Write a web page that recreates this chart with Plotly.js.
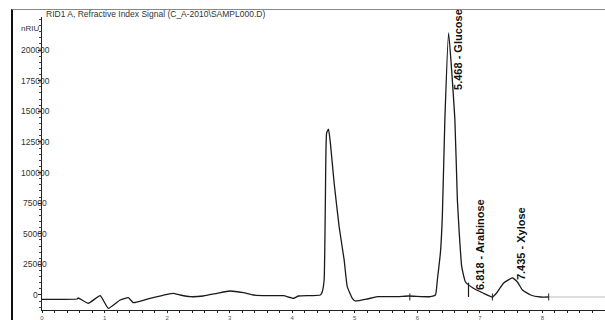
<!DOCTYPE html>
<html><head><meta charset="utf-8">
<script src="https://cdn.plot.ly/plotly-3.0.1.min.js"></script>
<style>html,body{margin:0;padding:0;background:#fff;}#frame{position:absolute;left:11px;top:9px;width:600px;height:320px;border-left:2px solid #111;border-top:1px solid #888;box-sizing:border-box;pointer-events:none;z-index:5}</style>
</head><body>
<div id="chart" style="width:605px;height:320px;"></div>
<div id="frame"></div>
<script>
// Retention time (min) and signal (nRIU)
const timeMin = [0,0.56,0.58,0.74,0.93,1.06,1.25,1.38,1.46,1.73,2.0,2.10,2.21,2.37,2.58,2.80,3.0,3.22,3.38,3.61,3.86,4.02,4.10,4.45,
  4.48,4.51,4.53,4.55,4.58,4.61,4.67,4.75,4.83,4.88,4.96,5.01,5.20,5.36,5.68,5.86,6.21,
  6.29,6.32,6.37,6.40,6.44,6.50,6.60,6.64,6.67,6.71,6.77,6.89,7.05,7.20,
  7.28,7.38,7.52,7.60,7.68,7.81,7.97,8.10];
const signal = [-3500,-3270,-2450,-6780,-570,-10870,-4090,-2200,-6290,-2700,570,1390,0,-1390,-820,1390,3270,1880,0,-570,-570,-2700,-820,0,
  2700,12260,77600,132400,135400,124200,91500,55800,28600,6800,-2700,-4900,-3270,-1390,-1390,-820,-1390,
  0,12260,35000,65000,143000,214000,143000,77600,50650,22900,10600,5700,1630,-1630,
  2450,9800,13900,10600,4090,0,-1630,-1630];
const tailTime = [8.10, 9.0];
const tailSignal = [-1630, -1630];
const markTimes = [5.88, 7.20, 8.10];
const markSignal = [-1600, -1630, -1630];
const dropTime = [6.818, 6.818];
const dropSignal = [-1600, 10000];
const peakLabels = ['5.468 - Glucose', '6.818 - Arabinose', '7.435 - Xylose'];
const labelTime = [6.66, 7.01, 7.65];
const labelSignal = [165900, 2450, 10600];
const yTickVals = [0,25000,50000,75000,100000,125000,150000,175000,200000];
const yTickText = ['0','25000','50000','75000','100000','125000','150000','175000','200000'];
const xTickVals = [0,1,2,3,4,5,6,7,8,9];
const xTickText = ['0','1','2','3','4','5','6','7','8','9'];

const traces = [
  {x: timeMin, y: signal, mode:'lines', line:{color:'#1a1a1a', width:1.3, shape:'spline', smoothing:0.4}, hoverinfo:'skip'},
  {x: tailTime, y: tailSignal, mode:'lines', line:{color:'#bbbbbb', width:1}, hoverinfo:'skip'},
  {x: dropTime, y: dropSignal, mode:'lines', line:{color:'#1a1a1a', width:1.2}, hoverinfo:'skip'},
  {x: markTimes, y: markSignal, mode:'markers', marker:{symbol:'line-ns', size:5, line:{color:'#222', width:1}}, hoverinfo:'skip'}
];

const annotations = [];
peakLabels.forEach((t,i)=>annotations.push({x:labelTime[i], y:labelSignal[i], xref:'x', yref:'y', text:t, showarrow:false, textangle:-90, xanchor:'center', yanchor:'bottom', font:{family:'Liberation Sans, Arial', size:11, color:'#111', weight:'bold'}}));
yTickVals.forEach((v,i)=>annotations.push({x:0, y:v, xref:'paper', yref:'y', text:yTickText[i], showarrow:false, xanchor:'center', yanchor:'middle', xshift:-7, font:{family:'Liberation Sans, Arial', size:8.5, color:'#333'}}));
annotations.push({x:0, y:1, xref:'paper', yref:'paper', text:'nRIU', showarrow:false, xanchor:'right', yanchor:'top', xshift:-1, yshift:-5, font:{family:'Liberation Sans, Arial', size:8, color:'#333'}});
annotations.push({x:0, y:1, xref:'paper', yref:'paper', text:'RID1 A, Refractive Index Signal (C_A-2010\\SAMPL000.D)', showarrow:false, xanchor:'left', yanchor:'bottom', xshift:2, yshift:-4, font:{family:'Liberation Sans, Arial', size:8.5, color:'#333'}});

const layout = {
  width:605, height:320, margin:{l:42, r:0, t:17, b:10},
  paper_bgcolor:'#fff', plot_bgcolor:'#fff', showlegend:false,
  xaxis:{range:[0,9.0], tickvals:xTickVals, ticktext:xTickText, ticks:'outside', ticklen:2, tickcolor:'#222',
    showline:true, linecolor:'#222', linewidth:1, showgrid:false, zeroline:false,
    tickfont:{family:'Liberation Sans, Arial', size:6, color:'#555'},
    minor:{dtick:0.2, ticks:'outside', ticklen:1.5, tickcolor:'#222'}},
  yaxis:{range:[-12255, 227000], tickvals:yTickVals, showticklabels:false, ticks:'outside', ticklen:3, tickcolor:'#222',
    showline:true, linecolor:'#222', linewidth:1.3, showgrid:false, zeroline:false,
    minor:{dtick:5000, ticks:'outside', ticklen:1.5, tickcolor:'#444'}},
  annotations: annotations
};
Plotly.newPlot('chart', traces, layout, {displayModeBar:false, staticPlot:true});
</script>
</body></html>
